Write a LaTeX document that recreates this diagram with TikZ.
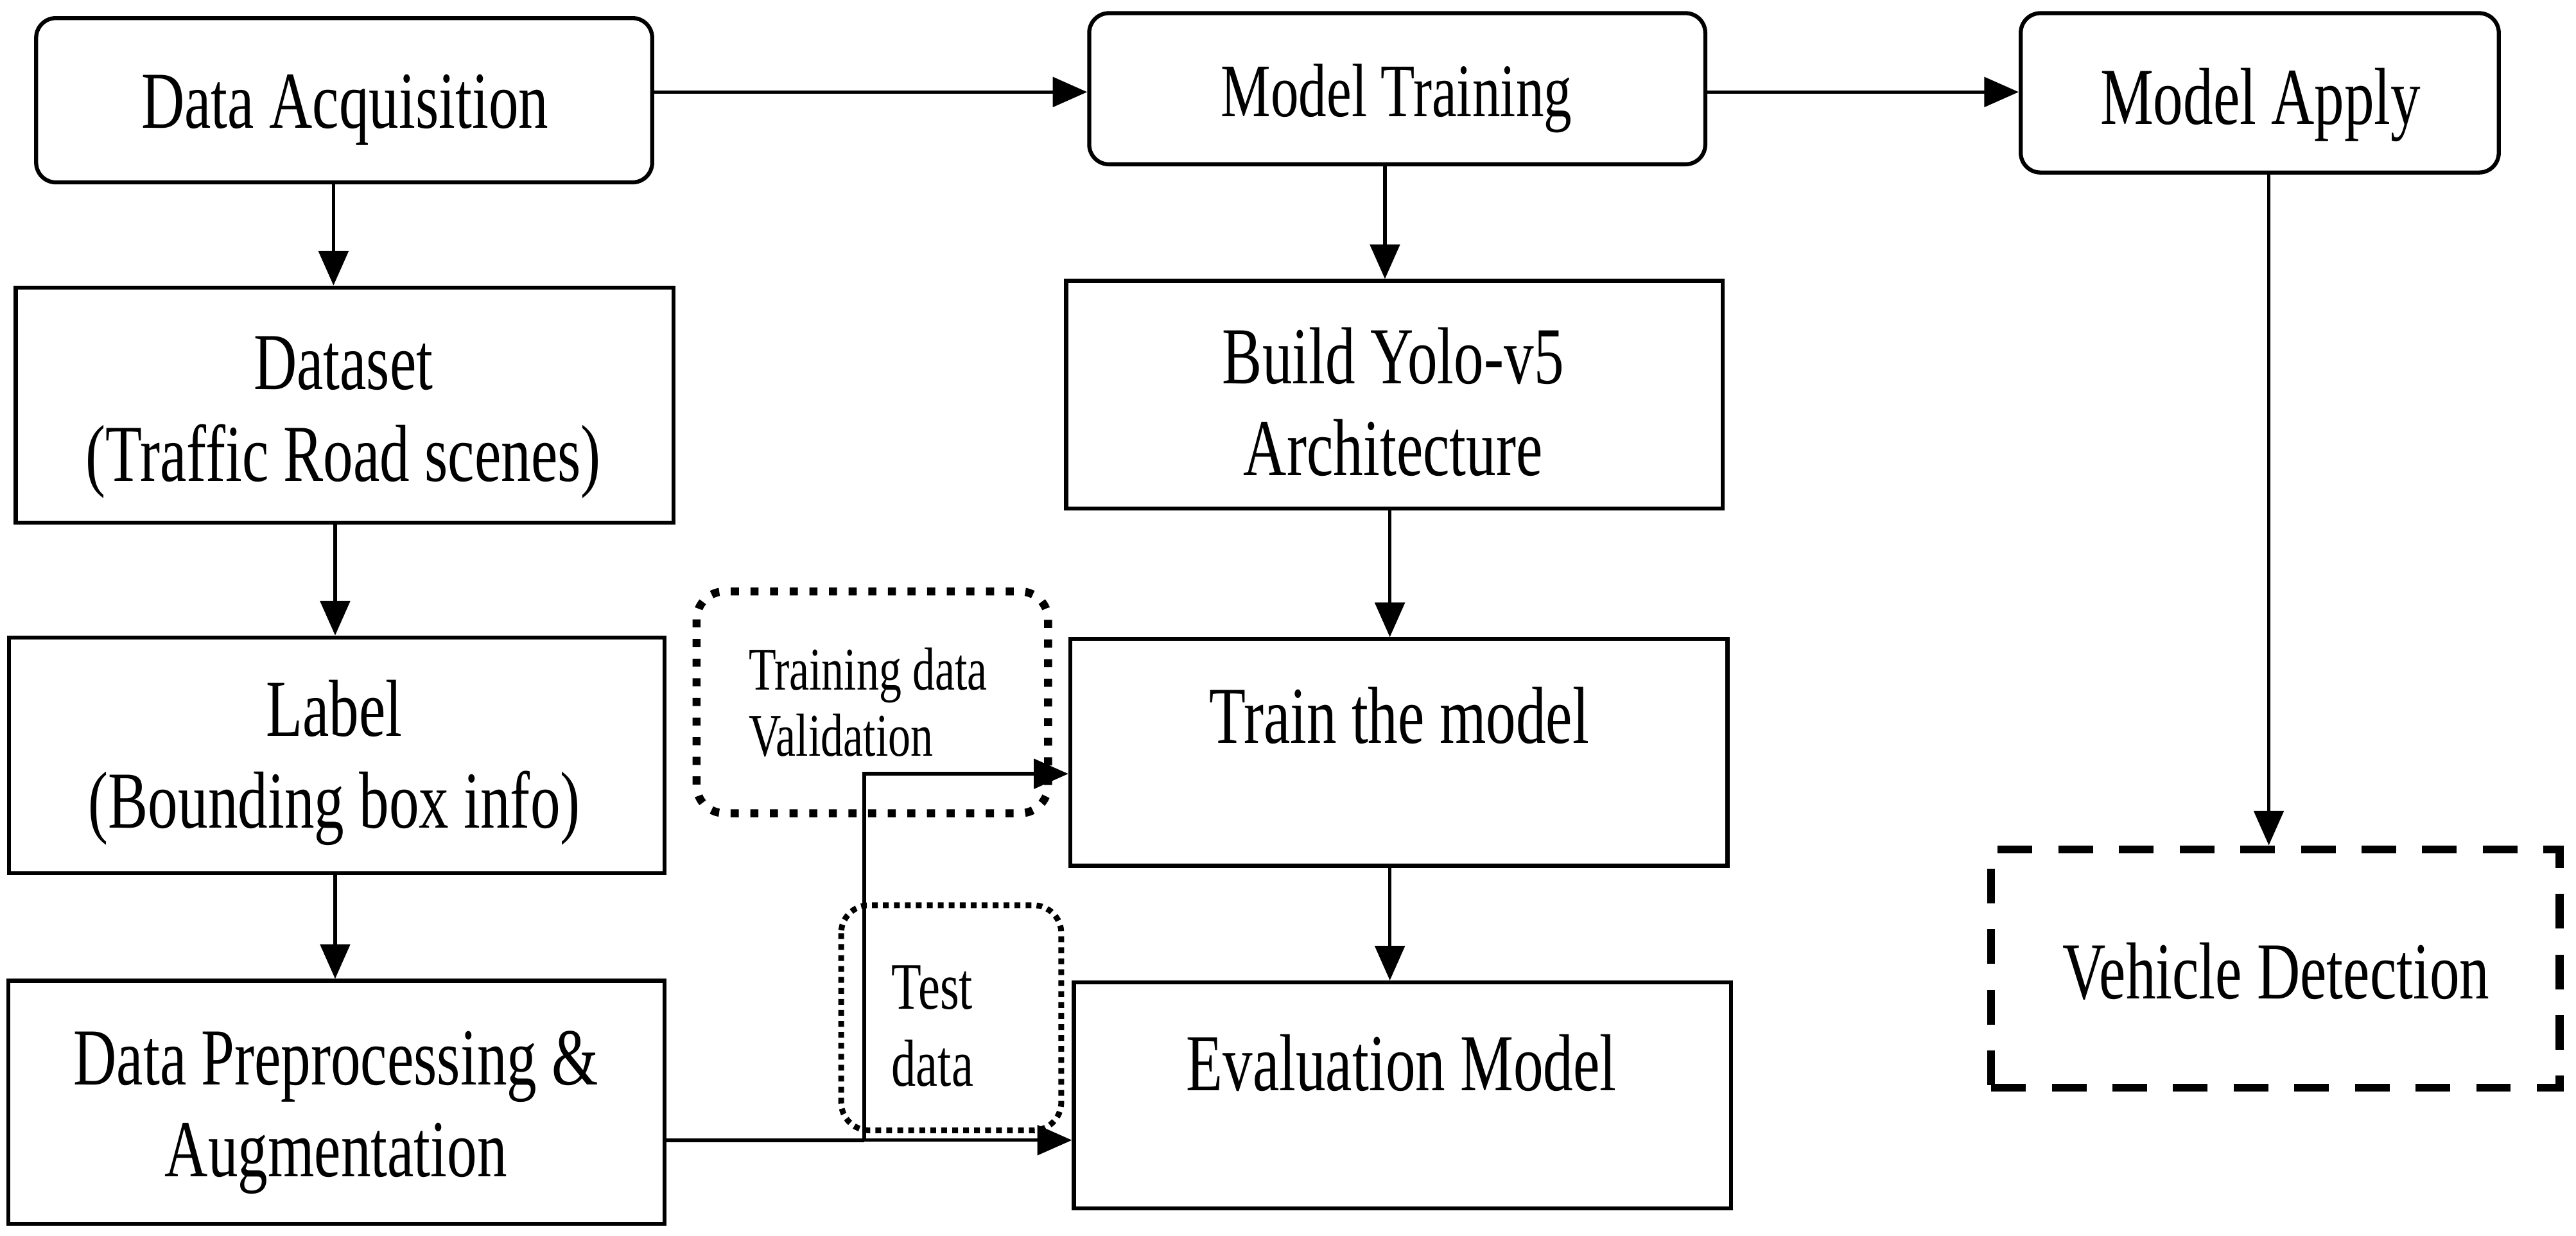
\documentclass[tikz,border=0pt]{standalone}
\usepackage{fontspec}
\setmainfont{Liberation Serif}[FakeStretch=0.74]
\usetikzlibrary{arrows.meta}
\begin{document}
\begin{tikzpicture}[x=0.1mm,y=-0.1mm,
  txt/.style={font=\fontsize{14pt}{15.9pt}\selectfont, align=center, inner sep=0pt, anchor=base},
  sbox/.style={draw, line width=0.7pt, inner sep=0pt},
  rbox/.style={sbox, rounded corners=1.2mm},
  dbox/.style={draw, line width=1.4pt, dash pattern=on 6pt off 4.5pt, inner sep=0pt},
  tdot/.style={draw, line width=1.4pt, dash pattern=on 1.4pt off 2pt, rounded corners=1.7mm},
  sdot/.style={draw, line width=1pt, dash pattern=on 1pt off 0.9pt, rounded corners=1.7mm},
  arr/.style={-{Triangle[length=2.1mm,width=1.8mm]}, line width=0.6pt},
  ln/.style={line width=0.7pt}]
\useasboundingbox (0,0) rectangle (1568,752);

% top row boxes
\node[rbox, minimum width=37.5mm, minimum height=10mm] (da) at (209.5,61) {};
\node[rbox, minimum width=37.5mm, minimum height=9.2mm] (mt) at (850.5,54) {};
\node[rbox, minimum width=29.1mm, minimum height=9.7mm] (ma) at (1375.5,56.5) {};
% left column boxes
\node[sbox, minimum width=40.04mm, minimum height=14.3mm] (ds) at (209.8,246.5) {};
\node[sbox, minimum width=39.9mm, minimum height=14.35mm] (lb) at (205,459.75) {};
\node[sbox, minimum width=39.95mm, minimum height=14.8mm] (dp) at (204.75,671) {};
% middle column boxes
\node[sbox, minimum width=39.96mm, minimum height=13.85mm] (bd) at (848.8,240.25) {};
\node[sbox, minimum width=40mm, minimum height=13.8mm] (tr) at (851.5,458) {};
\node[sbox, minimum width=40mm, minimum height=13.75mm] (ev) at (853.7,666.75) {};
% right box
\node[dbox, minimum width=34.6mm, minimum height=14.5mm] (vd) at (1385,589.5) {};

% texts
\node[txt] (daT) at (210,78) {Data Acquisition};
\node[txt, font=\fontsize{13.1pt}{15.9pt}\selectfont] (mtT) at (850,71) {Model Training};
\node[txt] (maT) at (1376,75.5) {Model Apply};
\node[txt] (dsT) at (209,293) {Dataset\\(Traffic Road scenes)};
\node[txt] (lbT) at (203.5,504) {Label\\(Bounding box info)};
\node[txt] (dpT) at (204.5,716) {Data Preprocessing \&\\Augmentation};
\node[txt] (bdT) at (848,289.4) {Build Yolo-v5\\Architecture};
\node[txt] (trT) at (851.7,452.5) {Train the model};
\node[txt] (evT) at (853,663.7) {Evaluation Model};
\node[txt] (vdT) at (1385.5,608) {Vehicle Detection};

% dotted groups
\draw[tdot] (424,360) rectangle (638,495);
\node[anchor=base west, align=left, inner sep=0pt, font=\fontsize{10.5pt}{11.4pt}\selectfont] (tdl) at (455,460) {Training data\\Validation};
\draw[sdot] (512,551) rectangle (646,688);
\node[anchor=base west, align=left, inner sep=0pt, font=\fontsize{11.5pt}{13.3pt}\selectfont] (tel) at (542,661) {Test\\data};

% arrows
\draw[arr] (da.east |- 0,56) -- (mt.west |- 0,56);
\draw[arr] (mt.east |- 0,56) -- (ma.west |- 0,56);
\draw[arr] (da.south -| 203,0) -- (ds.north -| 203,0);
\draw[arr] (ds.south -| 204,0) -- (lb.north -| 204,0);
\draw[arr] (lb.south -| 204,0) -- (dp.north -| 204,0);
\draw[arr] (mt.south -| 843,0) -- (bd.north -| 843,0);
\draw[arr] (bd.south -| 846,0) -- (tr.north -| 846,0);
\draw[arr] (tr.south -| 846,0) -- (ev.north -| 846,0);
\draw[arr] (ma.south -| 1381,0) -- (vd.north -| 1381,0);

\coordinate (j) at (526,694);
\coordinate (t) at (526,471);
\draw[ln] (dp.east |- j) -- (j);
\draw[arr] (j) -- (j -| ev.west);
\draw[arr] (j) -- (t) -- (t -| tr.west);
\end{tikzpicture}
\end{document}
